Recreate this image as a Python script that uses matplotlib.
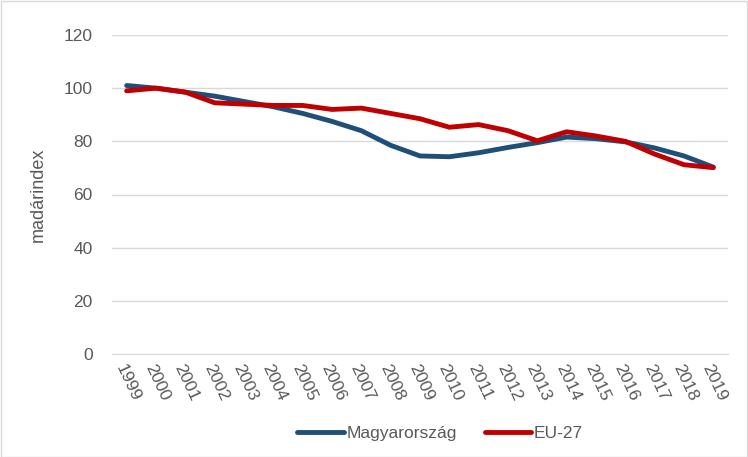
import matplotlib.pyplot as plt

plt.rcParams['font.family'] = ['Liberation Sans', 'DejaVu Sans']

years = [str(y) for y in range(1999, 2020)]
magyar = [101, 100, 98.5, 97, 95, 93, 90.5, 87.5, 84, 78.5, 74.5, 74.2,
          75.7, 77.7, 79.5, 81.6, 81, 79.8, 77.5, 74.5, 70.3]
eu27 = [99, 100, 98.5, 94.5, 94, 93.5, 93.5, 92, 92.5, 90.5, 88.5, 85.3,
        86.3, 84, 80.2, 83.6, 82, 80, 75.2, 71.2, 70.1]

fig = plt.figure(figsize=(7.48, 4.57), dpi=100)
ax = fig.add_axes([112 / 748, 1 - 354 / 457, 616 / 748, 319 / 457])

x = range(len(years))
ax.plot(x, magyar, color='#1F4E79', lw=3.5, label='Magyarország', solid_capstyle='round')
ax.plot(x, eu27, color='#C00000', lw=3.5, label='EU-27', solid_capstyle='round')

ax.set_xlim(-0.5, len(years) - 0.5)
ax.set_ylim(0, 120)
ax.set_yticks(range(0, 121, 20))
ax.set_xticks(list(x))
ax.set_xticklabels(years, rotation=-65, ha='left', va='top',
                   rotation_mode='anchor', fontsize=12.5, color='#595959')
ax.tick_params(axis='y', labelsize=12.5, colors='#595959', length=0, pad=14)
ax.tick_params(axis='x', length=0, pad=6)
ax.grid(axis='y', color='#D9D9D9', lw=1)
ax.set_axisbelow(True)
for s in ['top', 'right', 'left']:
    ax.spines[s].set_visible(False)
ax.spines['bottom'].set_color('#D9D9D9')
ax.set_ylabel('madárindex', fontsize=13, color='#595959', labelpad=12)

fig.legend(loc='center', bbox_to_anchor=(440 / 748, 1 - 433 / 457), ncol=2,
           frameon=False, fontsize=12.5, labelcolor='#595959', handlelength=2.7,
           handletextpad=0.15, columnspacing=1.6)

fig.patches.append(plt.Rectangle((0.001, 0.001), 0.997, 0.997, transform=fig.transFigure,
                                 fill=False, edgecolor='#D9D9D9', lw=1))

fig.savefig('out.png', dpi=100)
